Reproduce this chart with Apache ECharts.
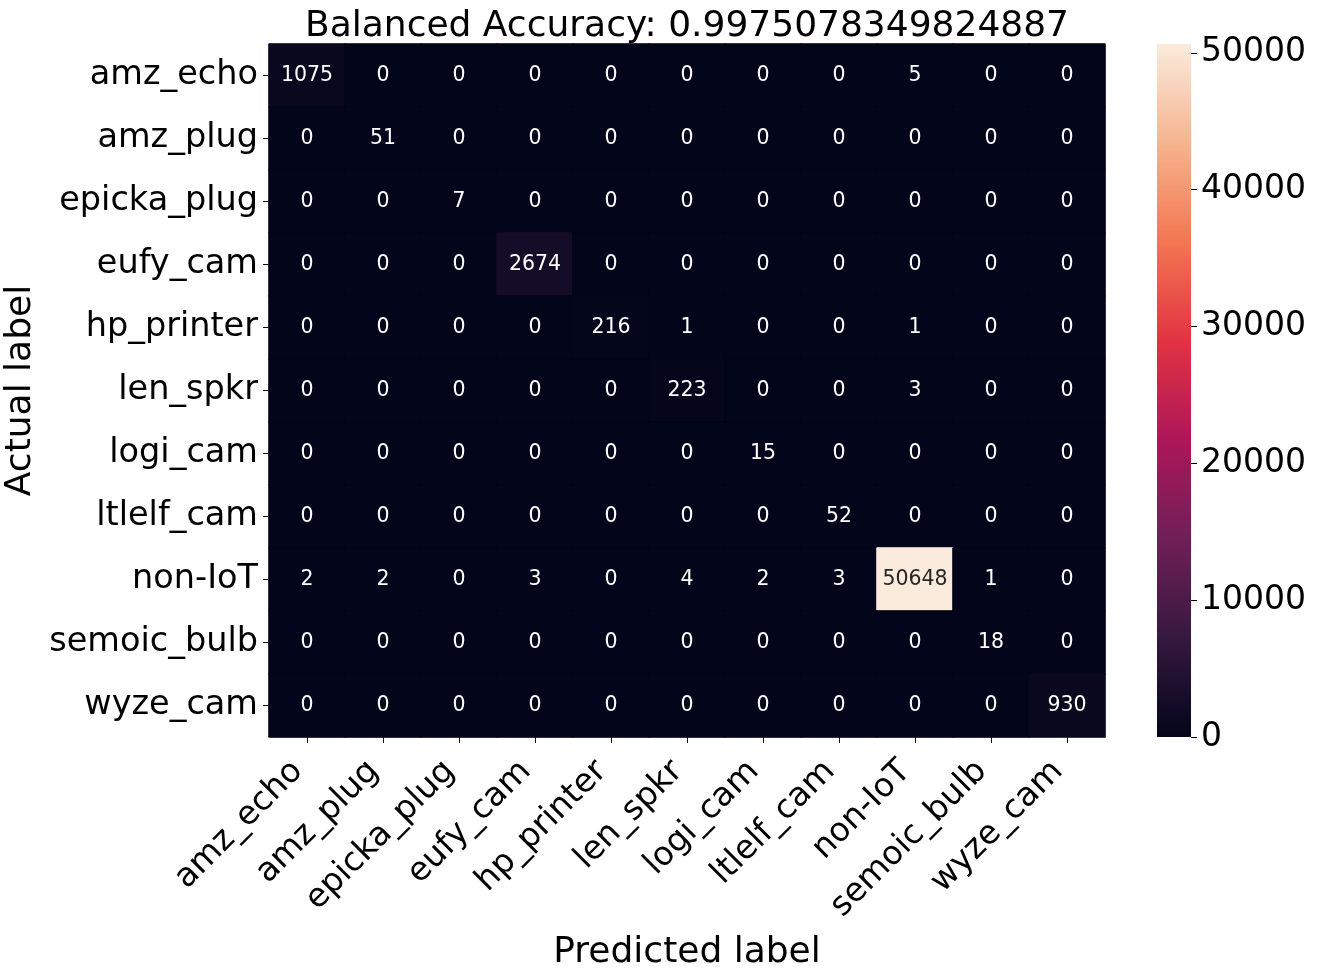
<!DOCTYPE html>
<html>
<head>
<meta charset="utf-8">
<script src="https://cdn.jsdelivr.net/npm/echarts@6/dist/echarts.min.js"></script>
<style>
html,body{margin:0;padding:0;background:#fff;}
#chart{width:1317px;height:979px;}
</style>
</head>
<body>
<div id="chart"></div>
<script>
const titleText = 'Balanced Accuracy: 0.9975078349824887';
const categories = ['amz_echo','amz_plug','epicka_plug','eufy_cam','hp_printer','len_spkr','logi_cam','ltlelf_cam','non-IoT','semoic_bulb','wyze_cam'];
const row_amz_echo    = [1075,0,0,0,0,0,0,0,5,0,0];
const row_amz_plug    = [0,51,0,0,0,0,0,0,0,0,0];
const row_epicka_plug = [0,0,7,0,0,0,0,0,0,0,0];
const row_eufy_cam    = [0,0,0,2674,0,0,0,0,0,0,0];
const row_hp_printer  = [0,0,0,0,216,1,0,0,1,0,0];
const row_len_spkr    = [0,0,0,0,0,223,0,0,3,0,0];
const row_logi_cam    = [0,0,0,0,0,0,15,0,0,0,0];
const row_ltlelf_cam  = [0,0,0,0,0,0,0,52,0,0,0];
const row_non_iot     = [2,2,0,3,0,4,2,3,50648,1,0];
const row_semoic_bulb = [0,0,0,0,0,0,0,0,0,18,0];
const row_wyze_cam    = [0,0,0,0,0,0,0,0,0,0,930];
const matrix = [row_amz_echo,row_amz_plug,row_epicka_plug,row_eufy_cam,row_hp_printer,row_len_spkr,row_logi_cam,row_ltlelf_cam,row_non_iot,row_semoic_bulb,row_wyze_cam];
const colorbarTicks = [0,10000,20000,30000,40000,50000];
const xName = 'Predicted label';
const yName = 'Actual label';

// rocket colormap, evenly spaced stops
const rocket = ['#03051a','#35193e','#701f57','#ad1759','#e13342','#f37651','#f6b48f','#faebdd'];

function hexToRgb(h){ return [1,3,5].map(i => parseInt(h.substr(i,2),16)); }
function cmap(t){
  t = Math.max(0, Math.min(1, t));
  const n = rocket.length - 1;
  const i = Math.min(n - 1, Math.floor(t * n));
  const f = t * n - i;
  const a = hexToRgb(rocket[i]), b = hexToRgb(rocket[i+1]);
  const c = a.map((v, k) => Math.round(v + (b[k] - v) * f));
  return 'rgb(' + c.join(',') + ')';
}

let vmax = 0;
matrix.forEach(r => r.forEach(v => { if (v > vmax) vmax = v; }));

const data = [];
matrix.forEach((row, yi) => row.forEach((v, xi) => {
  const col = cmap(v / vmax);
  data.push({
    value: [xi, yi, v],
    itemStyle: { color: col, borderColor: col, borderWidth: 1 },
    label: { color: v / vmax > 0.6 ? '#262626' : '#ffffff' }
  });
}));

const FONT = 'DejaVu Sans';
const chart = echarts.init(document.getElementById('chart'), null, {renderer: 'canvas'});
chart.setOption({
  backgroundColor: '#ffffff',
  animation: false,
  textStyle: { fontFamily: FONT },
  title: {
    text: titleText,
    left: 682, top: 4, textAlign: 'center',
    textStyle: { fontFamily: FONT, fontSize: 36, fontWeight: 'normal', color: '#000' }
  },
  grid: [
    { left: 269, right: 212, top: 44, bottom: 242, containLabel: false, outerBoundsMode: 'none' },
    { left: 1157, width: 34, top: 44, bottom: 242, containLabel: false, outerBoundsMode: 'none' }
  ],
  xAxis: [
    {
      gridIndex: 0, type: 'category', data: categories,
      name: xName, nameLocation: 'middle', nameGap: 198,
      nameTextStyle: { fontFamily: FONT, fontSize: 36, color: '#000' },
      axisLine: { show: false },
      axisTick: { show: true, alignWithLabel: true, length: 6, lineStyle: { color: '#000', width: 1 } },
      axisLabel: { rotate: 45, fontFamily: FONT, fontSize: 33, color: '#000', margin: 20, interval: 0, padding: [0, 13, 0, 0] },
      splitLine: { show: false }
    },
    {
      gridIndex: 1, type: 'category', data: [''],
      axisLine: { show: false }, axisTick: { show: false }, axisLabel: { show: false }
    }
  ],
  yAxis: [
    {
      gridIndex: 0, type: 'category', data: categories, inverse: true,
      name: yName, nameLocation: 'middle', nameGap: 203, nameRotate: 90,
      nameTextStyle: { fontFamily: FONT, fontSize: 36, color: '#000' },
      axisLine: { show: false },
      axisTick: { show: true, alignWithLabel: true, length: 6, lineStyle: { color: '#000', width: 1 } },
      axisLabel: { fontFamily: FONT, fontSize: 33.5, color: '#000', margin: 11, interval: 0 },
      splitLine: { show: false }
    },
    {
      gridIndex: 1, type: 'value', position: 'right', min: 0, max: vmax,
      axisLine: { show: false },
      axisTick: { show: true, length: 6, lineStyle: { color: '#000' }, customValues: colorbarTicks },
      axisLabel: { fontFamily: FONT, fontSize: 33, color: '#000', margin: 10, customValues: colorbarTicks, formatter: v => String(v) },
      splitLine: { show: false }
    }
  ],
  series: [
    {
      type: 'heatmap', xAxisIndex: 0, yAxisIndex: 0, data: data,
      label: { show: true, fontFamily: FONT, fontSize: 20.5, formatter: p => String(p.value[2]) },
      emphasis: { disabled: true }
    },
    {
      type: 'bar', xAxisIndex: 1, yAxisIndex: 1, data: [vmax], barWidth: '100%',
      itemStyle: {
        color: {
          type: 'linear', x: 0, y: 1, x2: 0, y2: 0,
          colorStops: rocket.map((c, i) => ({ offset: i / (rocket.length - 1), color: c }))
        }
      },
      silent: true
    }
  ]
});
</script>
</body>
</html>
